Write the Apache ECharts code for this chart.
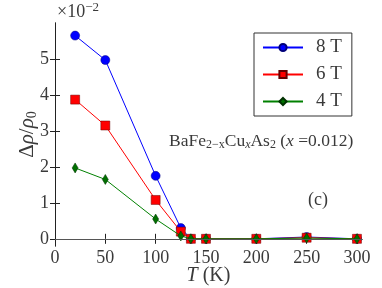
<!DOCTYPE html>
<html><head><meta charset="utf-8">
<script src="https://cdn.jsdelivr.net/npm/echarts@6/dist/echarts.min.js"></script>
<style>html,body{margin:0;padding:0;background:#fff}#c{width:382px;height:288px}</style>
</head><body><div id="c"></div>
<script>
const temps = [20, 50, 100, 125, 135, 150, 200, 250, 300];
const s8T = [5.65, 4.97, 1.75, 0.30, 0.00, 0.00, 0.00, 0.05, 0.00];
const s6T = [3.87, 3.15, 1.08, 0.20, 0.00, 0.00, 0.00, 0.03, 0.00];
const s4T = [1.97, 1.65, 0.55, 0.08, 0.00, 0.00, 0.00, 0.02, 0.00];
const xTicks = [0, 50, 100, 150, 200, 250, 300];
const yTicks = [0, 1, 2, 3, 4, 5];

const F = 'Liberation Serif, DejaVu Serif, serif';
const TXT = '#3a3a3a';
const pair = (arr) => temps.map((t, i) => [t, arr[i]]);
const diamond = 'path://M0,-10L6,0L0,10L-6,0Z';

const chart = echarts.init(document.getElementById('c'), null, {renderer: 'canvas'});
const axisLine = {show: true, lineStyle: {color: '#222', width: 1}};
const tick = (vals) => ({show: true, inside: true, length: 5, lineStyle: {color: '#222', width: 1}, customValues: vals});

chart.setOption({
  animation: false,
  grid: {left: 55, right: 20, top: 23, bottom: 42, outerBoundsMode: 'none', containLabel: false},
  xAxis: [{
    type: 'value', min: 0, max: 305, position: 'bottom',
    axisLine, axisTick: tick(xTicks), splitLine: {show: false},
    axisLabel: {customValues: xTicks, color: TXT, fontFamily: F, fontSize: 18, margin: 3},
    name: '{i|T} (K)', nameLocation: 'middle', nameGap: 20, nameMoveOverlap: false,
    nameTextStyle: {color: TXT, fontFamily: F, fontSize: 20, rich: {i: {fontStyle: 'italic', fontFamily: F, fontSize: 20, color: TXT}}}
  }, {
    type: 'value', min: 0, max: 305, position: 'top',
    axisLine, axisTick: tick(xTicks), axisLabel: {show: false}, splitLine: {show: false}
  }],
  yAxis: [{
    type: 'value', min: -0.2, max: 6.0, position: 'left',
    axisLine, axisTick: tick(yTicks), splitLine: {show: false},
    axisLabel: {customValues: yTicks, color: TXT, fontFamily: F, fontSize: 18, margin: 6},
    name: 'Δ{i|ρ}/{i|ρ}{s|0}', nameLocation: 'middle', nameGap: 16, nameRotate: 90, nameMoveOverlap: false,
    nameTextStyle: {color: TXT, fontFamily: F, fontSize: 21,
      rich: {i: {fontStyle: 'italic', fontFamily: F, fontSize: 21, color: TXT},
             s: {fontFamily: F, fontSize: 14, color: TXT, padding: [9, 0, 0, 0]}}}
  }, {
    type: 'value', min: -0.2, max: 6.0, position: 'right',
    axisLine, axisTick: tick(yTicks), axisLabel: {show: false}, splitLine: {show: false}
  }],
  legend: {
    orient: 'vertical', left: 254, top: 33, width: 99,
    padding: [5, 10, 5, 8], itemGap: 8, itemWidth: 40, itemHeight: 9,
    borderColor: '#333', borderWidth: 1, backgroundColor: '#fff',
    textStyle: {color: TXT, fontFamily: F, fontSize: 19, padding: [0, 0, 0, 8], lineHeight: 19},
    data: ['8 T', '6 T', '4 T']
  },
  graphic: [
    {type: 'text', left: 57, top: 1, style: {text: '×10{s|−2}', fill: TXT, font: '18px ' + F,
      rich: {s: {fontSize: 13, fontFamily: F, fill: TXT, padding: [0, 0, 9, 0]}}}},
    {type: 'text', left: 169, top: 132, style: {
      text: 'BaFe{s|2−x}Cu{si|x}As{s|2} ({i|x} =0.012)', fill: TXT, font: '17.5px ' + F,
      rich: {s: {fontSize: 12, fontFamily: F, fill: TXT, padding: [7, 0, 0, 0]},
             si: {fontSize: 12, fontFamily: F, fontStyle: 'italic', fill: TXT, padding: [7, 0, 0, 0]},
             i: {fontSize: 17.5, fontFamily: F, fontStyle: 'italic', fill: TXT}}}},
    {type: 'text', left: 308, top: 191, style: {text: '(c)', fill: TXT, font: '18px ' + F}}
  ],
  series: [
    {name: '8 T', type: 'line', data: pair(s8T), symbol: 'circle', symbolSize: 9,
      lineStyle: {color: '#0000ff', width: 1}, itemStyle: {color: '#0000ff', borderColor: '#00007a', borderWidth: 0.5},
      markLine: {silent: true, symbol: 'none', label: {show: false}, lineStyle: {color: '#555', type: 'solid', width: 1.2},
        data: [{yAxis: 0}]}, z: 2},
    {name: '6 T', type: 'line', data: pair(s6T), symbol: 'rect', symbolSize: 9,
      lineStyle: {color: '#ff0000', width: 1}, itemStyle: {color: '#ff0000', borderColor: '#600', borderWidth: 0.5}, z: 3},
    {name: '4 T', type: 'line', data: pair(s4T), symbol: diamond, symbolSize: [6, 10],
      lineStyle: {color: '#008000', width: 1}, itemStyle: {color: '#007000', borderColor: '#003000', borderWidth: 0.5}, z: 4}
  ]
});
</script></body></html>
